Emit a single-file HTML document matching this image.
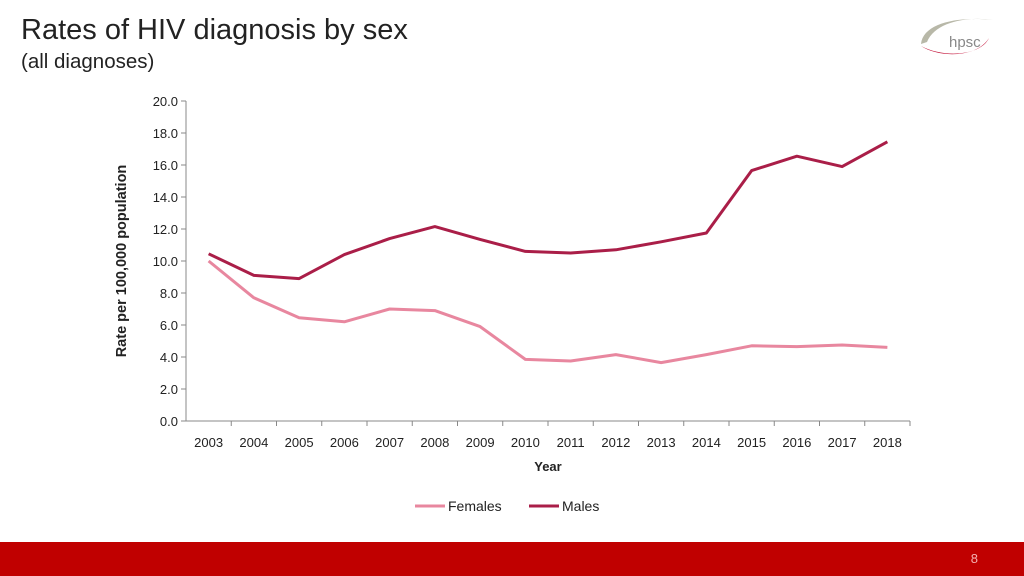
<!DOCTYPE html>
<html><head><meta charset="utf-8"><style>
body{margin:0;width:1024px;height:576px;overflow:hidden;background:#fff;font-family:"Liberation Sans",sans-serif;position:relative}
.t{position:absolute;left:21px;top:14px;font-size:29px;color:#222}
.st{position:absolute;left:21px;top:50px;font-size:20.5px;color:#222}
.foot{position:absolute;left:0;top:542px;width:1024px;height:34px;background:#c00000}
.pn{position:absolute;right:46px;top:551px;color:#f3b0b0;font-size:13px}
</style></head><body>
<div class="t">Rates of HIV diagnosis by sex</div>
<div class="st">(all diagnoses)</div>
<svg style="position:absolute;left:915px;top:12px" width="85" height="50" viewBox="0 0 85 50">
<path d="M6 32 C8 12 40 4 78 8 C52 4 20 10 12 30 Z" fill="#b8b8a8"/>
<path d="M6 34 C24 46 62 46 74 26 C66 44 28 46 6 34 Z" fill="#c4163c"/>
<text x="34" y="35" font-size="15" fill="#888" font-family="Liberation Sans">hpsc</text>
</svg>
<svg id="c" width="1024" height="576" style="position:absolute;left:0;top:0"></svg>
<div class="foot"></div>
<div class="pn">8</div>
<script>
const years=[2003,2004,2005,2006,2007,2008,2009,2010,2011,2012,2013,2014,2015,2016,2017,2018];
const females=[10.0,7.7,6.45,6.2,7.0,6.9,5.9,3.85,3.75,4.15,3.65,4.15,4.7,4.65,4.75,4.6];
const males=[10.45,9.1,8.9,10.4,11.4,12.15,11.35,10.6,10.5,10.7,11.2,11.75,15.65,16.55,15.9,17.45];
const yTicks=[0,2,4,6,8,10,12,14,16,18,20];
const NS="http://www.w3.org/2000/svg",svg=document.getElementById('c');
const L=186,R=910,T=101,B=421,step=(R-L)/years.length;
const x=i=>L+step*(i+0.5), y=v=>B-(v/20)*(B-T);
function mk(t,a,p){const e=document.createElementNS(NS,t);for(const k in a)e.setAttribute(k,a[k]);(p||svg).appendChild(e);return e;}
const ax=mk('g',{});
mk('line',{x1:L,y1:T,x2:L,y2:B,stroke:'#888'},ax);
mk('line',{x1:L,y1:B,x2:R,y2:B,stroke:'#888'},ax);
yTicks.forEach(v=>{mk('line',{x1:L-5,y1:y(v),x2:L,y2:y(v),stroke:'#888'},ax);
const t=mk('text',{x:L-8,y:y(v)+5,'text-anchor':'end','font-size':13,fill:'#222'},ax);t.textContent=v.toFixed(1);
});
years.forEach((yr,i)=>{const tx=L+step*(i+1);mk('line',{x1:tx,y1:B,x2:tx,y2:B+5,stroke:'#888'},ax);
const t=mk('text',{x:x(i),y:447,'text-anchor':'middle','font-size':13,fill:'#222'},ax);t.textContent=yr;
});
const xt=mk('text',{x:548,y:471,'text-anchor':'middle','font-size':13,'font-weight':'bold',fill:'#222'});xt.textContent='Year';

const yt=mk('text',{x:0,y:0,'text-anchor':'middle','font-size':14.5,'font-weight':'bold',fill:'#222',transform:'translate(126,261) rotate(-90)'});yt.textContent='Rate per 100,000 population';

function line(d,c,n){const p=mk('polyline',{points:d.map((v,i)=>x(i)+','+y(v)).join(' '),fill:'none',stroke:c,'stroke-width':3,'stroke-linejoin':'round'});
}
line(females,'#e8879f','females-line');line(males,'#aa1e48','males-line');
function leg(x0,c,label,n){const g=mk('g',{});
mk('line',{x1:x0,y1:506,x2:x0+30,y2:506,stroke:c,'stroke-width':3},g);
const t=mk('text',{x:x0+33,y:511,'font-size':14,fill:'#222'},g);t.textContent=label;}
leg(415,'#e8879f','Females','legend-females');leg(529,'#aa1e48','Males','legend-males');
</script>
</body></html>
